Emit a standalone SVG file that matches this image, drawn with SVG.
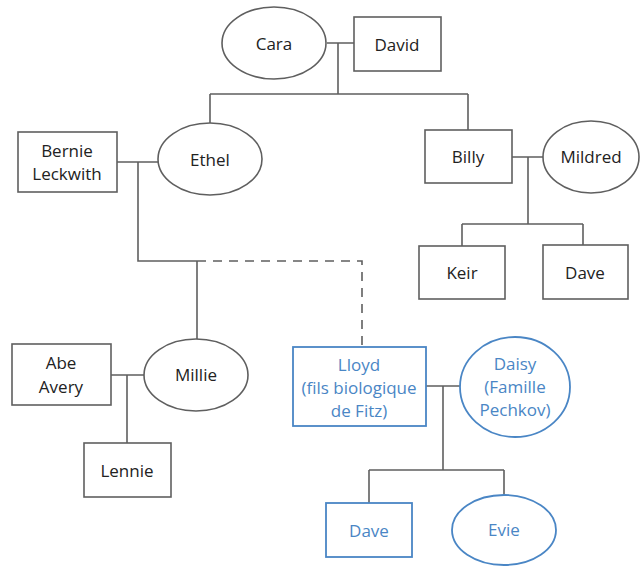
<svg xmlns="http://www.w3.org/2000/svg" width="641" height="567" viewBox="0 0 641 567">
<style>
.n{fill:#fff;stroke:#5f5f5f;stroke-width:1.6}
.b{fill:#fff;stroke:#4a86c5;stroke-width:1.8}
text{font-family:"Open Sans","Noto Sans","Liberation Sans",sans-serif;font-size:17px;text-anchor:middle;dominant-baseline:central;fill:#222}
text.bt{fill:#4a86c5}
.c{fill:none;stroke:#5f5f5f;stroke-width:1.6}
.d{fill:none;stroke:#5f5f5f;stroke-width:1.6;stroke-dasharray:9 7}
</style>
<rect width="641" height="567" fill="#fff"/>
<g id="connectors">
<path class="c" d="M327 43H354M338 43V94M210 94H468M210 94V123M468 94V130"/>
<path class="c" d="M117 162H158M138 162V261H197M197 261V339"/>
<path class="d" d="M197 261H362V347"/>
<path class="c" d="M512 157H543M528 157V224M462 224H583M462 224V246M583 224V245"/>
<path class="c" d="M111 375H144M127 375V443"/>
<path class="c" d="M426 386H460M443 386V470M369 470H504M369 470V503M504 470V495"/>
</g>
<g id="cara"><ellipse class="n" cx="274" cy="43" rx="52" ry="36"/><text x="274" y="43">Cara</text></g>
<g id="david"><rect class="n" x="354" y="17" width="87" height="54"/><text x="397" y="44">David</text></g>
<g id="bernie"><rect class="n" x="18" y="132" width="99" height="60"/><text x="67" y="150">Bernie</text><text x="67" y="173">Leckwith</text></g>
<g id="ethel"><ellipse class="n" cx="210" cy="159" rx="52" ry="36"/><text x="210" y="159">Ethel</text></g>
<g id="billy"><rect class="n" x="425" y="130" width="87" height="53"/><text x="468" y="156">Billy</text></g>
<g id="mildred"><ellipse class="n" cx="591" cy="157" rx="48" ry="36"/><text x="591" y="156">Mildred</text></g>
<g id="keir"><rect class="n" x="419" y="246" width="86" height="53"/><text x="462" y="272">Keir</text></g>
<g id="dave1"><rect class="n" x="543" y="245" width="85" height="54"/><text x="585" y="272">Dave</text></g>
<g id="abe"><rect class="n" x="12" y="344" width="99" height="61"/><text x="61" y="362">Abe</text><text x="61" y="386">Avery</text></g>
<g id="millie"><ellipse class="n" cx="196" cy="375" rx="52" ry="36"/><text x="196" y="374">Millie</text></g>
<g id="lennie"><rect class="n" x="84" y="443" width="87" height="54"/><text x="127" y="470">Lennie</text></g>
<g id="lloyd"><rect class="b" x="293" y="347" width="133" height="79"/><text class="bt" x="359" y="364">Lloyd</text><text class="bt" x="359" y="387">(fils biologique</text><text class="bt" x="359" y="410">de Fitz)</text></g>
<g id="daisy"><ellipse class="b" cx="515" cy="387" rx="55" ry="50"/><text class="bt" x="515" y="363">Daisy</text><text class="bt" x="515" y="386">(Famille</text><text class="bt" x="515" y="409">Pechkov)</text></g>
<g id="dave2"><rect class="b" x="326" y="503" width="86" height="54"/><text class="bt" x="369" y="530">Dave</text></g>
<g id="evie"><ellipse class="b" cx="504" cy="530" rx="52" ry="35"/><text class="bt" x="504" y="529">Evie</text></g>
</svg>
